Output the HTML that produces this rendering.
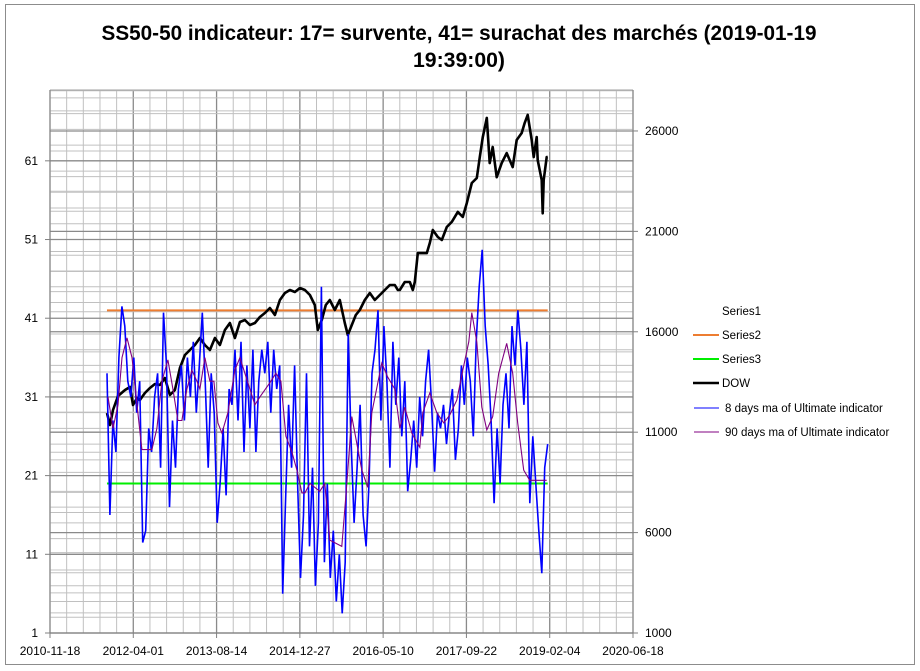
<!DOCTYPE html>
<html><head><meta charset="utf-8"><style>
html,body{margin:0;padding:0;background:#fff;}
svg{display:block;font-family:"Liberation Sans",sans-serif;}
</style></head><body>
<svg id="chart" width="920" height="671" viewBox="0 0 920 671" xmlns="http://www.w3.org/2000/svg">
<rect x="5.5" y="4.5" width="909" height="660" fill="#fff" stroke="#8c8c8c" stroke-width="1"/>
<g id="grid"></g>
<g id="series"></g>
<g id="axes"></g>
<text x="459" y="40" text-anchor="middle" font-size="21" font-weight="bold" textLength="715" lengthAdjust="spacingAndGlyphs">SS50-50 indicateur: 17= survente, 41= surachat des marchés (2019-01-19</text>
<text x="459" y="67" text-anchor="middle" font-size="21" font-weight="bold" textLength="92" lengthAdjust="spacingAndGlyphs">19:39:00)</text>
<g font-size="11.5" fill="#000">
<text x="722" y="315">Series1</text>
<line x1="693" y1="335" x2="719" y2="335" stroke="#ED7D31" stroke-width="2"/>
<text x="722" y="339">Series2</text>
<line x1="693" y1="359" x2="719" y2="359" stroke="#00ee00" stroke-width="2"/>
<text x="722" y="363">Series3</text>
<line x1="693" y1="383" x2="719" y2="383" stroke="#000" stroke-width="2.5"/>
<text x="722" y="387">DOW</text>
<line x1="694" y1="408" x2="719" y2="408" stroke="#0000ff" stroke-width="1"/>
<text x="725" y="412">8 days ma of Ultimate indicator</text>
<line x1="694" y1="432" x2="719" y2="432" stroke="#800080" stroke-width="1"/>
<text x="725" y="436">90 days ma of Ultimate indicator</text>
</g>
</svg>
<script>
// x values are days since 2010-11-18
const xTickLabels = ["2010-11-18","2012-04-01","2013-08-14","2014-12-27","2016-05-10","2017-09-22","2019-02-04","2020-06-18"];
const leftTicks = [1,11,21,31,41,51,61];
const rightTicks = [1000,6000,11000,16000,21000,26000];
const oversold = 20;
const overbought = 42;
const lineStartDay = 342, lineEndDay = 2988;
const blueStartDay = 342, blueEndDay = 2988;
const blueValues = [34,16,28,24,36,42.5,40,33,31,36,29,33,12.5,14,27,24,31,34,22,41.7,35,17,28,22,32,35,28,36,31,38,29,35,41.7,33,22,34,29,15,20,27,18.5,32,30,37,28,38,24,35,27,37,24,33,37,34,38,29,37,32,35,6,18,30,22,35,20,8,16,34,12,22,7,15,45,10,20,8,14,5,11,3.5,10,39,25,15,22,30,16,12,20,34,37,42,28,40,33,22,38,30,36,26,33,19,23,28,22,31,26,33,37,30,21.5,29,27,30,25,29,32,23,27,35,30,36,33,26,38,45,49.7,40,35,28,17.5,27,20,30,34,27,40,35,42,37,30,38,17.5,26,20,14,8.6,22,25];
const purpleDays = [348,378,408,432,462,492,522,552,612,642,672,708,738,768,792,822,852,882,900,930,960,984,1008,1032,1068,1110,1140,1230,1260,1320,1356,1386,1416,1452,1482,1512,1530,1560,1620,1650,1680,1752,1776,1812,1872,1908,1932,1992,2028,2070,2100,2130,2172,2220,2238,2280,2322,2364,2400,2442,2478,2514,2532,2562,2592,2622,2658,2694,2742,2778,2808,2844,2880,2920,2958,2976,2982];
const purpleValues = [31,27,30,36,38.5,36,30,24.3,24.3,27,33,35.7,32,28,28,32,34.4,33,32,36,33,33,27.7,26.4,29,34.4,36,30,31,32.8,34,33,26,24,21.7,18.8,18.8,20,19,20,12.8,12,18.3,28.5,21.7,19.5,29,35.3,33.5,32,27,29.7,26.4,24.6,29,31.5,29,27.7,28.7,30.6,34.4,38,41.7,38,29.7,26.8,28.5,34,37.8,34,27.7,21.7,20.4,20.4,20.4,20.4,20.4];
const dowDays = [342,360,378,408,450,480,498,522,540,570,600,630,660,690,720,750,780,810,840,870,900,930,960,990,1020,1050,1080,1110,1140,1170,1200,1230,1260,1290,1320,1350,1380,1410,1440,1470,1500,1530,1560,1590,1608,1632,1656,1680,1710,1740,1770,1788,1812,1836,1860,1890,1920,1950,1980,2010,2040,2070,2088,2100,2130,2160,2178,2190,2208,2262,2280,2298,2328,2352,2382,2412,2448,2478,2502,2532,2562,2580,2598,2622,2640,2658,2682,2712,2742,2778,2802,2832,2850,2868,2892,2904,2922,2928,2952,2958,2964,2982,2988];
const dowValues = [11956,11358,12105,12803,13101,13251,12354,12703,12603,12952,13201,13400,13350,13699,12852,13101,14197,14844,15093,15342,15691,15342,15093,15691,15342,16089,16438,15691,16488,16587,16338,16438,16737,16936,17185,16836,17583,17932,18081,17982,18181,18081,17832,17334,16089,16587,17334,17583,17085,17583,16438,15840,16338,16836,17085,17583,17932,17583,17832,18081,18330,18330,18081,18081,18480,18480,18081,18480,19920,19920,20420,21070,20720,20570,21220,21470,21970,21720,22410,23410,23660,24700,25700,26650,24400,25200,23700,24400,24900,24200,25550,25900,26400,26800,25550,24700,25700,24550,23560,21900,23560,24700,24700];

const X0=50, X1=633, Y0=633, YT=90;
const dayMax = 3500;
function xs(d){return X0 + d*(X1-X0)/dayMax;}
function yl(v){return Y0 - (v-1)*(Y0-YT)/69;}
function yr(v){return Y0 - (v-1000)*(Y0-YT)/27040;}
const NS="http://www.w3.org/2000/svg";
function mk(parent,tag,attrs){const e=document.createElementNS(NS,tag);for(const k in attrs)e.setAttribute(k,attrs[k]);parent.appendChild(e);return e;}
const grid=document.getElementById('grid'), series=document.getElementById('series'), axes=document.getElementById('axes');

// vertical gridlines every 100 days
for(let d=0; d<=dayMax; d+=100){
  const major = d%500===0;
  const ln=mk(grid,'line',{x1:xs(d),x2:xs(d),y1:YT,y2:Y0,stroke:major?'#8a8a8a':'#c0c0c0','stroke-width':major?1.3:1});
  
  
}
// left axis gridlines
for(let v=1; v<=70; v+=2){
  const major=(v-1)%10===0;
  const ln=mk(grid,'line',{x1:X0,x2:X1,y1:yl(v),y2:yl(v),stroke:major?'#8a8a8a':'#c0c0c0','stroke-width':major?1.3:1});
  
  
}
// right axis gridlines
for(let v=1000; v<=28000; v+=1000){
  const major=v%5000===1000;
  const ln=mk(grid,'line',{x1:X0,x2:X1,y1:yr(v),y2:yr(v),stroke:major?'#8a8a8a':'#c0c0c0','stroke-width':major?1.3:1});
  
  
}
mk(grid,'line',{x1:X0,x2:X1,y1:YT,y2:YT,stroke:'#a0a0a0'});

// reference lines
const ob=mk(series,'line',{x1:xs(lineStartDay),x2:xs(lineEndDay),y1:yl(overbought),y2:yl(overbought),stroke:'#ED7D31','stroke-width':2});


const os=mk(series,'line',{x1:xs(lineStartDay),x2:xs(lineEndDay),y1:yl(oversold),y2:yl(oversold),stroke:'#00ee00','stroke-width':2});



// DOW
let p=dowDays.map((d,i)=>xs(d).toFixed(1)+','+yr(dowValues[i]).toFixed(1)).join(' ');
const dow=mk(series,'polyline',{points:p,fill:'none',stroke:'#000','stroke-width':2.6,'stroke-linejoin':'round'});



// blue 8-day
const n=blueValues.length;
p=blueValues.map((v,i)=>{const d=blueStartDay+i*(blueEndDay-blueStartDay)/(n-1);return xs(d).toFixed(1)+','+yl(v).toFixed(1);}).join(' ');
const bl=mk(series,'polyline',{points:p,fill:'none',stroke:'#0000ff','stroke-width':1.6});



// purple 90-day
p=purpleDays.map((d,i)=>xs(d).toFixed(1)+','+yl(purpleValues[i]).toFixed(1)).join(' ');
const pu=mk(series,'polyline',{points:p,fill:'none',stroke:'#800080','stroke-width':1.1});



// axes
mk(axes,'line',{x1:X0,x2:X0,y1:YT,y2:Y0+5,stroke:'#808080'});
mk(axes,'line',{x1:X1,x2:X1,y1:YT,y2:Y0,stroke:'#808080'});
mk(axes,'line',{x1:X0,x2:X1,y1:Y0,y2:Y0,stroke:'#808080'});
xTickLabels.forEach((lab,i)=>{
  const x=xs(i*500);
  mk(axes,'line',{x1:x,x2:x,y1:Y0,y2:Y0+5,stroke:'#808080'});
  const t=mk(axes,'text',{x:x,y:655,'text-anchor':'middle','font-size':12});
  t.textContent=lab;
  
  
});
leftTicks.forEach(v=>{
  mk(axes,'line',{x1:X0-5,x2:X0,y1:yl(v),y2:yl(v),stroke:'#808080'});
  const t=mk(axes,'text',{x:38,y:yl(v)+4,'text-anchor':'end','font-size':12});
  t.textContent=v;
  
  
});
rightTicks.forEach(v=>{
  mk(axes,'line',{x1:X1,x2:X1+5,y1:yr(v),y2:yr(v),stroke:'#808080'});
  const t=mk(axes,'text',{x:645,y:yr(v)+4,'font-size':12});
  t.textContent=v;
  
  
});
</script>
</body></html>
